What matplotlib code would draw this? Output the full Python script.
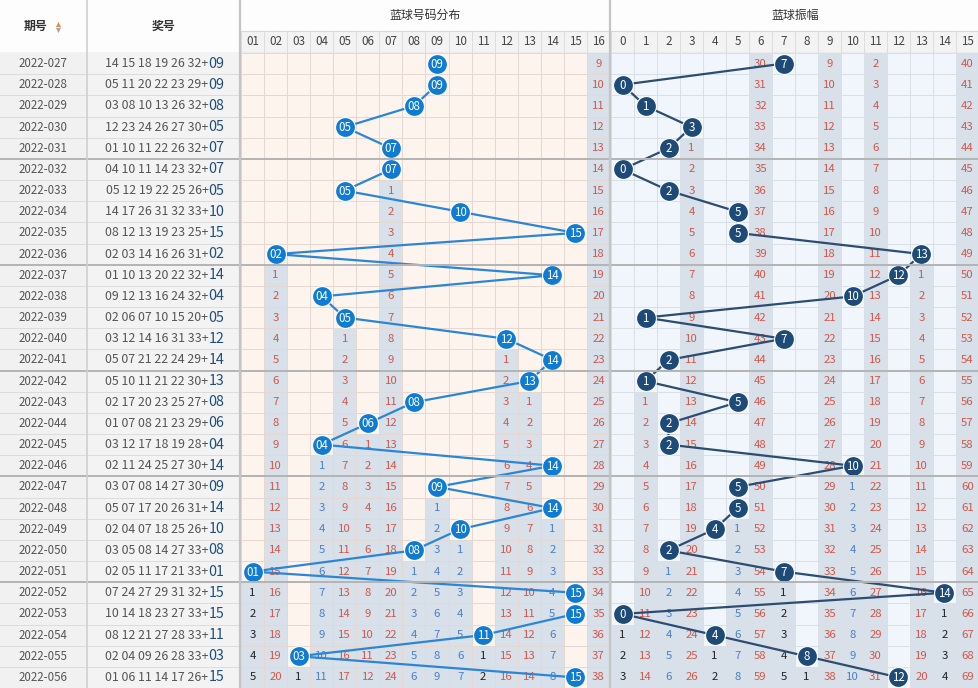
import matplotlib.pyplot as plt
import numpy as np
from matplotlib.colors import ListedColormap

plt.rcParams['font.family'] = ['Noto Sans CJK SC', 'DejaVu Sans']

periods = ['2022-027', '2022-028', '2022-029', '2022-030', '2022-031',
           '2022-032', '2022-033', '2022-034', '2022-035', '2022-036',
           '2022-037', '2022-038', '2022-039', '2022-040', '2022-041',
           '2022-042', '2022-043', '2022-044', '2022-045', '2022-046',
           '2022-047', '2022-048', '2022-049', '2022-050', '2022-051',
           '2022-052', '2022-053', '2022-054', '2022-055', '2022-056']
reds = ['14 15 18 19 26 32', '05 11 20 22 23 29', '03 08 10 13 26 32', '12 23 24 26 27 30', '01 10 11 22 26 32',
        '04 10 11 14 23 32', '05 12 19 22 25 26', '14 17 26 31 32 33', '08 12 13 19 23 25', '02 03 14 16 26 31',
        '01 10 13 20 22 32', '09 12 13 16 24 32', '02 06 07 10 15 20', '03 12 14 16 31 33', '05 07 21 22 24 29',
        '05 10 11 21 22 30', '02 17 20 23 25 27', '01 07 08 21 23 29', '03 12 17 18 19 28', '02 11 24 25 27 30',
        '03 07 08 14 27 30', '05 07 17 20 26 31', '02 04 07 18 25 26', '03 05 08 14 27 33', '02 05 11 17 21 33',
        '07 24 27 29 31 32', '10 14 18 23 27 33', '08 12 21 27 28 33', '02 04 09 26 28 33', '01 06 11 14 17 26']
blue = [9, 9, 8, 5, 7, 7, 5, 10, 15, 2, 14, 4, 5, 12, 14, 13, 8, 6, 4, 14, 9, 14, 10, 8, 1, 15, 15, 11, 3, 15]
prev_blue = 2  # 2022-026

dist_cols = list(range(1, 17))
amp_cols = list(range(0, 16))
# omission at 2022-027 for columns not hit in this window
dist_start = {16: 9}
amp_start = {6: 30, 9: 9, 11: 2, 15: 40}

amp = [abs(b - p) for b, p in zip(blue, [prev_blue] + blue[:-1])]
rows = np.arange(len(blue))


def omission(hits, cols, start):
    vals = np.zeros((len(hits), len(cols)), dtype=int)
    for j, c in enumerate(cols):
        hit_rows = [i for i, h in enumerate(hits) if h == c]
        if hit_rows:
            last = hit_rows[-1]
            for i in range(last + 1, len(hits)):
                vals[i, j] = i - last
        else:
            for i in range(len(hits)):
                vals[i, j] = start[c] + i
    return vals


def level_color(v):
    if v <= 5:
        return '#222222'
    if v <= 11:
        return '#4a80c8'
    return '#d0584a'


W, H = 979, 688
fig = plt.figure(figsize=(W / 100, H / 100), dpi=100)


def px_axes(x0, x1, y0, y1):
    ax = fig.add_axes([x0 / W, 1 - y1 / H, (x1 - x0) / W, (y1 - y0) / H])
    ax.set_axis_off()
    return ax


# header
hd = px_axes(0, W, 0, 53)
hd.set_xlim(0, W)
hd.set_ylim(53, 0)
hd.axhspan(0, 53, color='#fdfdfd')
hd.axhspan(31, 53, xmin=241 / W, xmax=1, color='#f3f3f3')
hd.axhline(31, xmin=241 / W, xmax=1, color='#d8d8d8', lw=0.8)
hd.axhline(52.5, color='#cfcfcf', lw=1)
hd.text(36, 26, '期号', ha='center', va='center', fontsize=8.6, fontweight='bold', color='#333333')
hd.scatter([58], [23.5], marker='^', s=14, color='#e0914a', lw=0)
hd.scatter([58], [29.5], marker='v', s=14, color='#a8a8a8', lw=0)
hd.text(163, 26, '奖号', ha='center', va='center', fontsize=8.6, fontweight='bold', color='#333333')
hd.text(425.5, 15, '蓝球号码分布', ha='center', va='center', fontsize=8.6, color='#333333')
hd.text(795, 15, '蓝球振幅', ha='center', va='center', fontsize=8.6, color='#333333')

# left columns
lf = px_axes(0, 240, 53, H)
lf.set_xlim(0, 240)
lf.set_ylim(len(blue) - 0.5, -0.5)
lf.axvspan(0, 87, color='#f1f1f1')
lf.axvspan(87, 240, color='#f3f3f3')
for r in rows:
    lf.axhline(r + 0.5, color='#dcdcdc', lw=0.7)
    lf.text(43, r, periods[r], ha='center', va='center', fontsize=8.3, color='#555555')
    lf.text(208.5, r, reds[r] + '+', ha='right', va='center', fontsize=8.9, color='#555555')
    lf.text(208.5, r, '%02d' % blue[r], ha='left', va='center', fontsize=10.3, color='#1f4f7e')


def section(ax, cols, hits, start, bg, grid, dot, line, labfmt):
    vals = omission(hits, cols, start)
    mask = (vals > 0).astype(int)
    x_edges = np.arange(cols[0] - 0.5, cols[-1] + 1.0)
    y_edges = np.arange(-0.5, len(hits) + 0.5)
    ax.pcolormesh(x_edges, y_edges, mask, cmap=ListedColormap([bg, '#d8e0e9']),
                  vmin=0, vmax=1, edgecolors=grid, linewidth=0.6)
    ax.set_xlim(x_edges[0], x_edges[-1])
    ax.set_ylim(len(hits) - 0.5, -0.5)
    for j, c in enumerate(cols):
        col = level_color(vals[-1, j])
        for r in rows:
            if vals[r, j] > 0:
                ax.text(c, r, str(vals[r, j]), ha='center', va='center', fontsize=8.2, color=col, zorder=2)
        # header numbers
        ax.text(c, -1.04, labfmt % c, ha='center', va='center', fontsize=8.4, color='#444444', clip_on=False)
    ax.vlines(x_edges, -0.5 - 22 / 21.17, -0.5, color='#dcdcdc', lw=0.7, clip_on=False)
    ax.plot(hits, rows, color=line, lw=1.6, zorder=3)
    ax.scatter(hits, rows, s=205, color=dot, edgecolors='white', linewidths=0.8, zorder=4)
    for r, h in zip(rows, hits):
        ax.text(h, r + 0.02, labfmt % h, ha='center', va='center', fontsize=8.3, color='white', zorder=5)


ds = px_axes(241, 610, 53, H)
section(ds, dist_cols, blue, dist_start, '#fdf4ee', '#e6d8d0', '#0f7bd2', '#2b86d6', '%02d')
am = px_axes(611, W, 53, H)
section(am, amp_cols, amp, amp_start, '#f1f6fc', '#d9dfe7', '#1e4a77', '#2c4d72', '%d')

# 5-row group separators
for ax in (lf, ds, am):
    for g in range(5, len(blue), 5):
        ax.axhline(g - 0.5, color='#b4b4b4', lw=1.4, zorder=6)

# column separators
sep = px_axes(0, W, 0, H)
sep.set_xlim(0, W)
sep.set_ylim(H, 0)
sep.axvline(87, color='#cfcfcf', lw=1.2)
sep.axvline(240.5, color='#c4c4c4', lw=1.6)
sep.axvline(610.5, color='#c4c4c4', lw=1.6)

fig.savefig('out.png', dpi=100)
